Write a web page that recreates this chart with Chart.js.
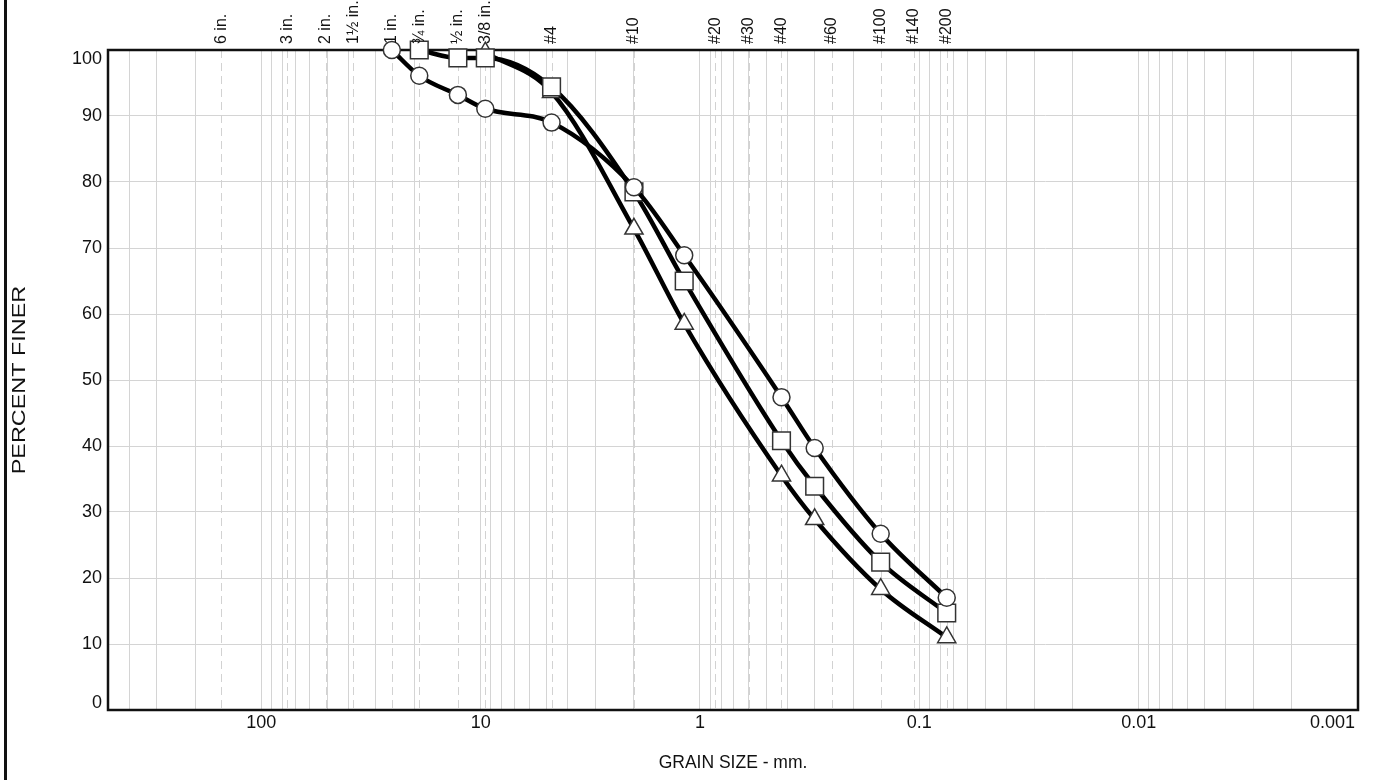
<!DOCTYPE html>
<html>
<head>
<meta charset="utf-8">
<script src="https://cdn.jsdelivr.net/npm/chart.js@4.4.1/dist/chart.umd.min.js"></script>
<style>
  html, body { margin: 0; padding: 0; background: #fff; }
  #wrap { position: relative; width: 1375px; height: 780px; }
</style>
</head>
<body>
<div id="wrap"><canvas id="grad"></canvas></div>
<script>
// Grain size distribution: percent finer vs grain size (log, reversed).

// sieve openings (mm) and their names, shown as dashed lines + top labels
const sieveSizes  = [152.4, 76.2, 50.8, 38.1, 25.4, 19.05, 12.7, 9.525, 4.75, 2.0, 0.85, 0.6, 0.425, 0.25, 0.15, 0.106, 0.075];
const sieveLabels = ['6 in.', '3 in.', '2 in.', '1\u00bd in.', '1 in.', '\u00be in.', '\u00bd in.', '3/8 in.', '#4', '#10', '#20', '#30', '#40', '#60', '#100', '#140', '#200'];

// sample 1 (circles)
const sizesCircle   = [25.4, 19.05, 12.7, 9.525, 4.75, 2.0, 1.18, 0.425, 0.3, 0.15, 0.075];
const finerCircle   = [100, 96.1, 93.2, 91.1, 89.0, 79.2, 68.9, 47.4, 39.7, 26.7, 17.0];
// sample 2 (squares)
const sizesSquare   = [19.05, 12.7, 9.525, 4.75, 2.0, 1.18, 0.425, 0.3, 0.15, 0.075];
const finerSquare   = [100, 98.8, 98.8, 94.4, 78.5, 65.0, 40.8, 33.9, 22.4, 14.7];
// sample 3 (triangles)
const sizesTriangle = [9.525, 4.75, 2.0, 1.18, 0.425, 0.3, 0.15, 0.075];
const finerTriangle = [99.6, 93.6, 72.9, 58.5, 35.5, 28.9, 18.3, 11.0];

// axis ticks
const xTickValues = [100, 10, 1, 0.1, 0.01, 0.001];
const xTickLabels = ['100', '10', '1', '0.1', '0.01', '0.001'];
const yTickValues = [0, 10, 20, 30, 40, 50, 60, 70, 80, 90, 100];

const X_MIN = 0.001, X_MAX = 500;
const FONT = '"Liberation Sans", Arial, Helvetica, sans-serif';

const pts = (xs, ys) => xs.map((x, i) => ({ x, y: ys[i] }));

// log grid: 1..9 x 10^n inside the range
function logGrid() {
  const out = [];
  for (let e = -3; e <= 2; e++) {
    for (let s = 1; s <= 9; s++) {
      const v = +(s * Math.pow(10, e)).toPrecision(6);
      if (v >= X_MIN && v <= X_MAX) out.push({ value: v });
    }
  }
  out.push({ value: X_MAX });
  return out.reverse();
}

const decor = {
  id: 'decor',
  beforeDatasetsDraw(chart) {
    const { ctx, chartArea: a, scales: { x } } = chart;
    ctx.save();
    // dashed sieve lines
    ctx.strokeStyle = '#d2d2d2';
    ctx.lineWidth = 1;
    ctx.setLineDash([8, 5]);
    for (const s of sieveSizes) {
      const px = Math.round(x.getPixelForValue(s)) + 0.5;
      ctx.beginPath();
      ctx.moveTo(px, a.top);
      ctx.lineTo(px, a.bottom);
      ctx.stroke();
    }
    ctx.setLineDash([]);
    // frame
    ctx.strokeStyle = '#111';
    ctx.lineWidth = 2.5;
    ctx.strokeRect(a.left, a.top, a.right - a.left, a.bottom - a.top);
    ctx.restore();
  },
  afterDraw(chart) {
    const { ctx, chartArea: a, scales: { x, y } } = chart;
    ctx.save();
    ctx.fillStyle = '#111';

    // outer left rule
    ctx.fillRect(4, 0, 3, chart.height);

    // y tick labels (end ones nudged inside the frame)
    ctx.font = '18px ' + FONT;
    ctx.textAlign = 'right';
    ctx.textBaseline = 'middle';
    for (const v of yTickValues) {
      let py = y.getPixelForValue(v);
      if (v === 100) py += 9;
      if (v === 0) py -= 7;
      ctx.fillText(String(v), a.left - 6, py);
    }

    // x tick labels
    xTickValues.forEach((v, i) => {
      const px = x.getPixelForValue(v);
      if (px >= a.right - 1) {
        ctx.textAlign = 'right';
        ctx.fillText(xTickLabels[i], a.right - 3, a.bottom + 13);
      } else {
        ctx.textAlign = 'center';
        ctx.fillText(xTickLabels[i], px, a.bottom + 13);
      }
    });

    // sieve labels along the top, rotated
    ctx.font = '16px ' + FONT;
    sieveSizes.forEach((s, i) => {
      const px = x.getPixelForValue(s);
      ctx.save();
      ctx.translate(px, a.top - 6);
      ctx.rotate(-Math.PI / 2);
      ctx.textAlign = 'left';
      ctx.textBaseline = 'middle';
      ctx.fillText(sieveLabels[i], 0, 0);
      ctx.restore();
    });

    // axis titles
    ctx.font = '17.5px ' + FONT;
    ctx.textAlign = 'center';
    ctx.textBaseline = 'middle';
    ctx.fillText('GRAIN SIZE - mm.', (a.left + a.right) / 2, 763);
    ctx.font = '18px ' + FONT;
    ctx.save();
    ctx.translate(20, (a.top + a.bottom) / 2);
    ctx.rotate(-Math.PI / 2);
    ctx.scale(1.3, 1);
    ctx.fillText('PERCENT FINER', 0, 0);
    ctx.restore();

    ctx.restore();
  }
};

const series = (data, style, radius) => ({
  data,
  borderColor: '#000',
  borderWidth: 4.5,
  cubicInterpolationMode: 'monotone',
  pointStyle: style,
  pointRadius: radius,
  pointHoverRadius: radius,
  pointBackgroundColor: '#fff',
  pointBorderColor: '#333',
  pointBorderWidth: 1.5,
  clip: false,
  fill: false,
});

new Chart(document.getElementById('grad'), {
  type: 'line',
  data: {
    datasets: [
      series(pts(sizesCircle, finerCircle), 'circle', 8.5),
      series(pts(sizesSquare, finerSquare), 'rect', 12.5),
      series(pts(sizesTriangle, finerTriangle), 'triangle', 10.5),
    ],
  },
  plugins: [decor],
  options: {
    responsive: true,
    maintainAspectRatio: false,
    animation: false,
    layout: { padding: { left: 108, right: 17, top: 50, bottom: 70 } },
    plugins: { legend: { display: false }, tooltip: { enabled: false } },
    scales: {
      x: {
        type: 'logarithmic',
        reverse: true,
        min: X_MIN,
        max: X_MAX,
        afterBuildTicks: (scale) => { scale.ticks = logGrid(); },
        ticks: { display: false, autoSkip: false },
        grid: { color: '#d4d4d4', lineWidth: 1, drawTicks: false },
        border: { display: false },
      },
      y: {
        type: 'linear',
        min: 0,
        max: 100,
        ticks: { display: false, stepSize: 10 },
        grid: { color: '#d4d4d4', lineWidth: 1, drawTicks: false },
        border: { display: false },
      },
    },
  },
});
</script>
</body>
</html>
